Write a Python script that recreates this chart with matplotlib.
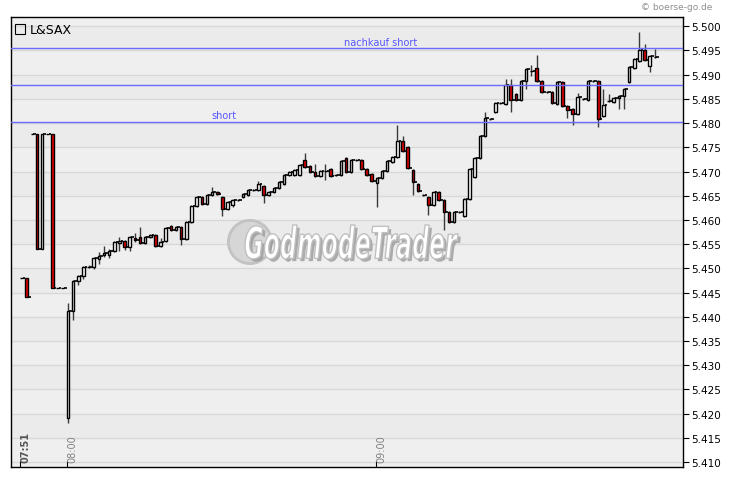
import numpy as np
import matplotlib
matplotlib.use("Agg")
import matplotlib.pyplot as plt
from matplotlib.patches import Rectangle, Ellipse, PathPatch
from matplotlib.textpath import TextPath
from matplotlib.font_manager import FontProperties
from matplotlib.transforms import Affine2D, IdentityTransform
import matplotlib.patheffects as pe

# minutes relative to 08:00, one candle per minute from 07:51 on
start_minute = -9
opens = [5.4481, 5.4481, 5.4778, 5.4778, 5.4541, 5.4778, 5.4778, 5.4460, 5.4460,
         5.4191, 5.4412, 5.4474, 5.4484, 5.4503, 5.4503, 5.4519, 5.4527, 5.4527, 5.4536,
         5.4552, 5.4556, 5.4544, 5.4562, 5.4564, 5.4552, 5.4564, 5.4569, 5.4546, 5.4556,
         5.4587, 5.4579, 5.4585, 5.4560, 5.4595, 5.4628, 5.4647, 5.4633, 5.4651, 5.4657,
         5.4647, 5.4622, 5.4631, 5.4641, 5.4647, 5.4651, 5.4661, 5.4661, 5.4670, 5.4651,
         5.4657, 5.4666, 5.4674, 5.4692, 5.4692, 5.4692, 5.4723, 5.4711, 5.4699, 5.4690,
         5.4701, 5.4705, 5.4692, 5.4692, 5.4728, 5.4699, 5.4723, 5.4723, 5.4705, 5.4695,
         5.4676, 5.4686, 5.4701, 5.4719, 5.4730, 5.4763, 5.4750, 5.4703, 5.4674, 5.4651,
         5.4647, 5.4631, 5.4657, 5.4641, 5.4616, 5.4595, 5.4616, 5.4608, 5.4643, 5.4688,
         5.4728, 5.4773, 5.4808, 5.4822, 5.4841, 5.4839, 5.4878, 5.4860, 5.4847, 5.4886,
         5.4907, 5.4913, 5.4886, 5.4864, 5.4864, 5.4839, 5.4884, 5.4835, 5.4829, 5.4818,
         5.4849, 5.4847, 5.4886, 5.4886, 5.4814, 5.4845, 5.4843, 5.4851, 5.4856, 5.4884,
         5.4913, 5.4928, 5.4950, 5.4917, 5.4936]
closes = [5.4481, 5.4440, 5.4778, 5.4541, 5.4778, 5.4778, 5.4460, 5.4460, 5.4460,
          5.4412, 5.4474, 5.4484, 5.4503, 5.4503, 5.4521, 5.4525, 5.4531, 5.4536, 5.4554,
          5.4556, 5.4544, 5.4564, 5.4558, 5.4552, 5.4564, 5.4569, 5.4546, 5.4554, 5.4583,
          5.4579, 5.4585, 5.4560, 5.4595, 5.4628, 5.4647, 5.4633, 5.4651, 5.4657, 5.4653,
          5.4622, 5.4637, 5.4641, 5.4641, 5.4653, 5.4661, 5.4661, 5.4674, 5.4651, 5.4657,
          5.4666, 5.4678, 5.4692, 5.4699, 5.4703, 5.4713, 5.4709, 5.4699, 5.4690, 5.4701,
          5.4701, 5.4690, 5.4692, 5.4721, 5.4699, 5.4723, 5.4723, 5.4705, 5.4692, 5.4680,
          5.4686, 5.4701, 5.4721, 5.4730, 5.4763, 5.4742, 5.4707, 5.4678, 5.4659, 5.4651,
          5.4631, 5.4657, 5.4641, 5.4616, 5.4595, 5.4616, 5.4616, 5.4643, 5.4705, 5.4728,
          5.4773, 5.4810, 5.4808, 5.4841, 5.4841, 5.4878, 5.4847, 5.4847, 5.4886, 5.4911,
          5.4907, 5.4886, 5.4864, 5.4864, 5.4841, 5.4884, 5.4835, 5.4827, 5.4818, 5.4853,
          5.4849, 5.4886, 5.4886, 5.4808, 5.4837, 5.4845, 5.4851, 5.4856, 5.4870, 5.4915,
          5.4932, 5.4950, 5.4930, 5.4938, 5.4936]
highs = [5.4481, 5.4481, 5.4778, 5.4778, 5.4778, 5.4778, 5.4778, 5.4460, 5.4460,
         5.4428, 5.4476, 5.4486, 5.4505, 5.4506, 5.4524, 5.4533, 5.4547, 5.4540, 5.4556,
         5.4565, 5.4558, 5.4567, 5.4573, 5.4585, 5.4567, 5.4571, 5.4571, 5.4562, 5.4585,
         5.4589, 5.4587, 5.4587, 5.4597, 5.4630, 5.4650, 5.4649, 5.4653, 5.4668, 5.4659,
         5.4649, 5.4639, 5.4643, 5.4643, 5.4655, 5.4663, 5.4663, 5.4680, 5.4672, 5.4659,
         5.4668, 5.4680, 5.4694, 5.4701, 5.4705, 5.4715, 5.4738, 5.4713, 5.4715, 5.4703,
         5.4715, 5.4707, 5.4694, 5.4723, 5.4730, 5.4725, 5.4725, 5.4725, 5.4707, 5.4697,
         5.4688, 5.4703, 5.4723, 5.4732, 5.4796, 5.4773, 5.4752, 5.4705, 5.4676, 5.4653,
         5.4649, 5.4659, 5.4659, 5.4643, 5.4618, 5.4618, 5.4618, 5.4645, 5.4707, 5.4730,
         5.4775, 5.4822, 5.4810, 5.4843, 5.4843, 5.4890, 5.4892, 5.4862, 5.4888, 5.4913,
         5.4919, 5.4940, 5.4888, 5.4866, 5.4866, 5.4886, 5.4886, 5.4837, 5.4831, 5.4862,
         5.4851, 5.4888, 5.4888, 5.4888, 5.4870, 5.4860, 5.4853, 5.4858, 5.4872, 5.4917,
         5.4934, 5.4988, 5.4963, 5.4940, 5.4952]
lows = [5.4481, 5.4440, 5.4778, 5.4541, 5.4541, 5.4778, 5.4460, 5.4460, 5.4460,
        5.4180, 5.4394, 5.4466, 5.4478, 5.4500, 5.4498, 5.4510, 5.4524, 5.4522, 5.4533,
        5.4535, 5.4538, 5.4535, 5.4555, 5.4550, 5.4550, 5.4562, 5.4544, 5.4544, 5.4554,
        5.4577, 5.4577, 5.4548, 5.4558, 5.4593, 5.4626, 5.4631, 5.4631, 5.4649, 5.4651,
        5.4608, 5.4620, 5.4626, 5.4639, 5.4645, 5.4649, 5.4659, 5.4659, 5.4635, 5.4649,
        5.4655, 5.4664, 5.4672, 5.4690, 5.4690, 5.4690, 5.4707, 5.4697, 5.4688, 5.4688,
        5.4682, 5.4688, 5.4690, 5.4690, 5.4697, 5.4697, 5.4721, 5.4703, 5.4690, 5.4678,
        5.4626, 5.4684, 5.4699, 5.4717, 5.4728, 5.4740, 5.4705, 5.4651, 5.4657, 5.4649,
        5.4610, 5.4629, 5.4639, 5.4579, 5.4593, 5.4593, 5.4614, 5.4606, 5.4641, 5.4686,
        5.4726, 5.4771, 5.4806, 5.4820, 5.4839, 5.4837, 5.4822, 5.4845, 5.4845, 5.4870,
        5.4897, 5.4884, 5.4862, 5.4862, 5.4839, 5.4837, 5.4833, 5.4810, 5.4796, 5.4816,
        5.4847, 5.4845, 5.4884, 5.4792, 5.4812, 5.4843, 5.4841, 5.4829, 5.4829, 5.4882,
        5.4911, 5.4926, 5.4928, 5.4905, 5.4934]

levels = [5.4955, 5.4878, 5.4803]
level_labels = ["nachkauf short", "", "short"]
level_label_min = [61, None, 30.5]

tick_minutes = [-9, 0, 60]
tick_labels = ["07:51", "08:00", "09:00"]
yticks = np.arange(5.410, 5.5001, 0.005)

# ---------------------------------------------------------------------------
fig = plt.figure(figsize=(7.30, 4.81), dpi=100)
fig.patch.set_facecolor("white")
ax = fig.add_axes([10.5 / 730, 1 - 468 / 481, 672.5 / 730, 450 / 481])
ax.set_facecolor("#efefef")

ymin, ymax = 5.4090, 5.5019
ax.set_ylim(ymin, ymax)
ax.set_xlim(-10.9, 119.7)

# background bands + grid
for i, yv in enumerate(yticks[:-1]):
    if i % 2 == 1:
        ax.axhspan(yv, yv + 0.005, color="#ebebeb", lw=0, zorder=0)
for yv in yticks:
    ax.axhline(yv, color="#d8d8d8", lw=1.0, zorder=1)

# candles
minutes = np.arange(start_minute, start_minute + len(opens))
bw = 0.5
for m, o, c, h, l in zip(minutes, opens, closes, highs, lows):
    if h > max(o, c) or l < min(o, c):
        ax.vlines(m + bw / 2, l, h, color="#3a3a3a", lw=1.0, zorder=2)
    face = "white" if c >= o else "#e00000"
    ax.add_patch(Rectangle((m, min(o, c)), bw, abs(c - o), facecolor=face,
                           edgecolor="black", lw=1.0, zorder=3))
    ax.hlines(c, m + bw, m + 1, color="black", lw=1.2, zorder=3)

# horizontal levels
for lv, lab, lm in zip(levels, level_labels, level_label_min):
    ax.axhline(lv, color="#6a6aff", lw=1.0, zorder=4)
    if lab:
        ax.text(lm, lv + 0.0003, lab, color="#5555ff", fontsize=7,
                ha="center", va="bottom", zorder=5)

# watermark (condensed text drawn as a scaled path, pixel coords)
ax.add_patch(Ellipse((0.356, 0.50), 0.064, 0.096, transform=ax.transAxes,
                     facecolor="#d6d6d6", edgecolor="#c2c2c2", lw=2.0, zorder=1.5))
tp = TextPath((0, 0), "GodmodeTrader", size=1,
              prop=FontProperties(family="DejaVu Sans", weight="bold", style="italic"))
ext = tp.get_extents()
sx = 213 / ext.width
sy = 34 / ext.height
wm_tr = Affine2D().translate(-ext.x0, -ext.y0).scale(sx, sy).translate(245, 481 - 260)
wm = PathPatch(wm_tr.transform_path(tp), transform=IdentityTransform(),
               facecolor="white", edgecolor="#c0c0c0", lw=1.0, zorder=1.6,
               path_effects=[pe.withSimplePatchShadow(offset=(2, -2),
                                                      shadow_rgbFace="#9a9a9a", alpha=0.8)])
fig.add_artist(wm)

# axes styling
for s in ["top", "left", "right", "bottom"]:
    ax.spines[s].set_color("black")
    ax.spines[s].set_linewidth(1.0)
ax.yaxis.tick_right()
ax.set_yticks(yticks)
ax.set_yticklabels(["%.3f" % v for v in yticks], fontsize=7.5)
ax.tick_params(axis="y", direction="out", length=4, pad=2, colors="black")
ax.set_xticks(tick_minutes)
ax.set_xticklabels([])
ax.tick_params(axis="x", direction="in", length=4, top=False)

for tm, tl in zip(tick_minutes, tick_labels):
    bold = tl == "07:51"
    ax.text(tm + 0.1, 0.012, tl, transform=ax.get_xaxis_transform(), rotation=90,
            ha="left", va="bottom", fontsize=7,
            color="#555555" if bold else "#808080",
            fontweight="bold" if bold else "normal")

# title box
ax.add_patch(Rectangle((0.007, 0.962), 0.014, 0.022, transform=ax.transAxes,
                       facecolor="none", edgecolor="black", lw=0.8, zorder=6))
ax.text(0.028, 0.973, "L&SAX", transform=ax.transAxes, fontsize=9,
        ha="left", va="center", zorder=6)

fig.text(712 / 730, 1 - 7 / 481, "\u00a9 boerse-go.de", fontsize=6.5, color="#909090",
         ha="right", va="center")

fig.savefig("out.png", dpi=100)
